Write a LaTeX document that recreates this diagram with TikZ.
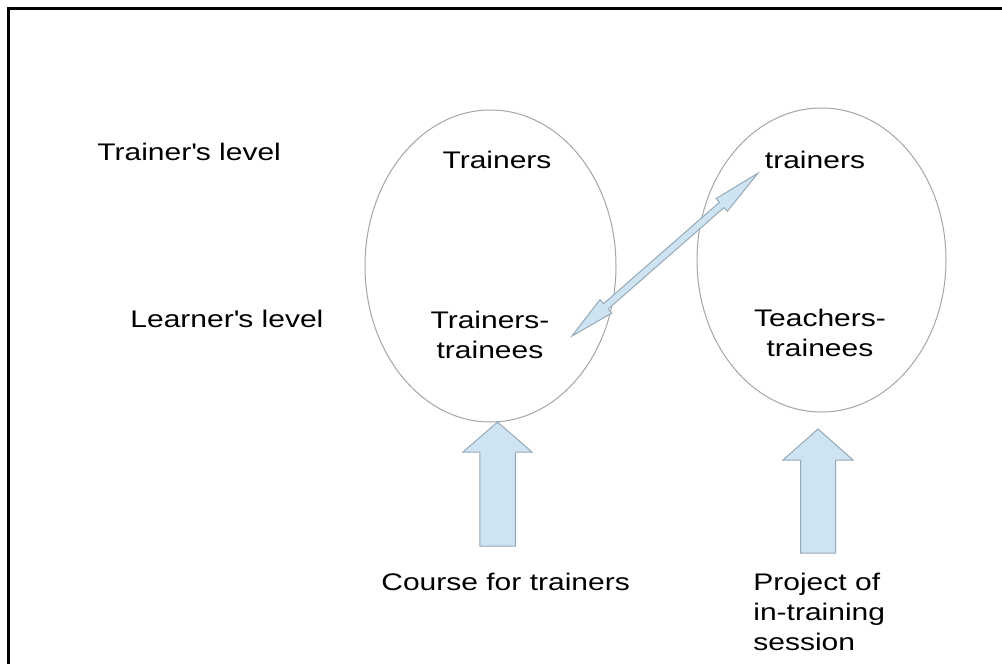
\documentclass[tikz,border=0pt]{standalone}
\usepackage{fontspec}
\setmainfont{Liberation Sans}[FakeStretch=1.25]
\definecolor{ringgray}{RGB}{165,165,165}
\definecolor{arrowfill}{RGB}{207,228,243}
\definecolor{arrowline}{RGB}{150,168,182}
\begin{document}
\begin{tikzpicture}[x=0.5pt,y=-0.5pt,
	lbl/.style={inner sep=0pt,font=\fontsize{12}{15}\selectfont},
	ring/.style={draw=ringgray,line width=0.5pt},
	bluearrow/.style={fill=arrowfill,draw=arrowline,line width=0.5pt,line join=miter}]
				\useasboundingbox (0,0) rectangle (1002,664);
				\draw[line width=1.5pt] (8,664) -- (8,8) -- (1002,8);
				% the two groups
				\draw[ring] (490.5,266) ellipse (125.5 and 156);
				\draw[ring] (821.5,260) ellipse (124.5 and 152);
				% levels
				\node[lbl,anchor=base west] (trainerlvl) at (97,160) {Trainer\textquotesingle s level};
				\node[lbl,anchor=base west] (learnerlvl) at (130,327) {Learner\textquotesingle s level};
				\node[lbl,anchor=base] (trainersL) at (497,168) {Trainers};
				\node[lbl,anchor=base] (trainersR) at (815,168) {trainers};
				% base anchor sits on the last line
				\node[lbl,anchor=base,align=center] (traineesL) at (490,358) {Trainers-\\trainees};
				\node[lbl,anchor=base,align=center] (traineesR) at (820,356) {Teachers-\\trainees};
				\node[lbl,anchor=base west] (course) at (381,590) {Course for trainers};
				\node[lbl,anchor=base west,align=left] (project) at (753,650) {Project of\\in-training\\session};
				% link between the groups
				\coordinate (linkL) at (572,336);
				\coordinate (linkR) at (758,173);
				\begin{scope}[shift={(linkL)},rotate=41.2]
					\draw[bluearrow] (0,0) -- (45,9) -- (45,3.5) -- (199,3.5) -- (199,8.5) -- (247,0)
						-- (199,-8.5) -- (199,-3.5) -- (45,-3.5) -- (45,-9) -- cycle;
				\end{scope}
				% inputs
				\coordinate (tipL) at (497.5,422);
				\coordinate (tipR) at (818,429);
				\draw[bluearrow] (tipL) -- ++(34.5,30) -- ++(-16.75,0) -- ++(0,94) -- ++(-35.5,0)
					-- ++(0,-94) -- ++(-16.75,0) -- cycle;
				\draw[bluearrow] (tipR) -- ++(35,31) -- ++(-17.5,0) -- ++(0,93) -- ++(-35,0)
					-- ++(0,-93) -- ++(-17.5,0) -- cycle;
\end{tikzpicture}
\end{document}
